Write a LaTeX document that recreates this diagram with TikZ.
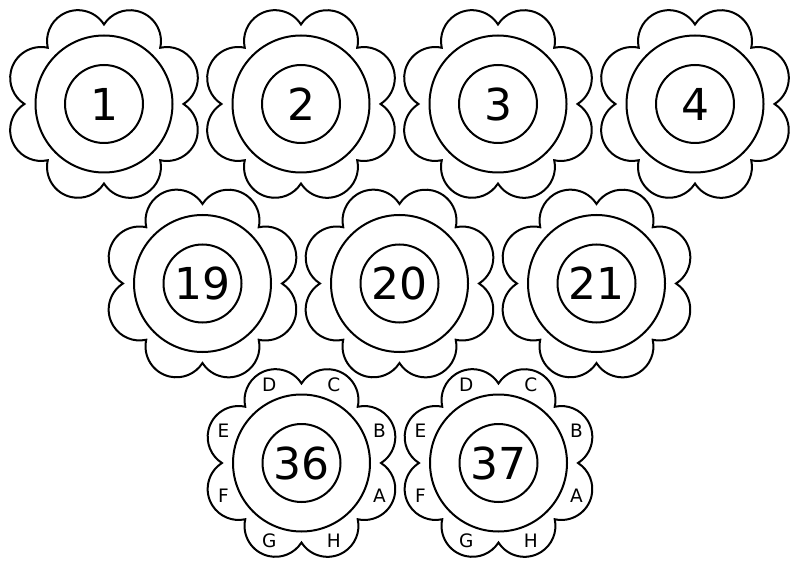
\documentclass[tikz,border=0pt]{standalone}
\usepackage{fontspec}
\setmainfont{DejaVu Sans}
\tikzset{
  flowerline/.style={line width=2pt, black, line join=miter},
  outerc/.style={circle, draw, line width=2pt, minimum size=137pt, inner sep=0pt},
  innerc/.style={circle, draw, line width=2pt, minimum size=78pt, inner sep=0pt, font=\fontsize{44}{44}\selectfont},
  petal/.style={inner sep=0pt, font=\fontsize{18.5}{18.5}\selectfont}
}
\newcommand{\flowerat}[3]{%
  \coordinate (#1) at #2;
  \draw[flowerline] (#1) ++(0:79.5)
    foreach \k in {0,...,7} { arc[start angle=45*\k-57.5, end angle=45*\k+102.5, radius=30.9] } -- cycle;
  \node[outerc] (#1o) at (#1) {};
  \node[innerc] (#1i) at (#1) {#3};
}
\newcommand{\petallabels}[1]{%
  \node[petal] (#1A) at ($(#1)+(-22.5:84.5)$) {A};
  \node[petal] (#1B) at ($(#1)+(22.5:84.5)$) {B};
  \node[petal] (#1C) at ($(#1)+(67.5:84.5)$) {C};
  \node[petal] (#1D) at ($(#1)+(112.5:84.5)$) {D};
  \node[petal] (#1E) at ($(#1)+(157.5:84.5)$) {E};
  \node[petal] (#1F) at ($(#1)+(202.5:84.5)$) {F};
  \node[petal] (#1G) at ($(#1)+(247.5:84.5)$) {G};
  \node[petal] (#1H) at ($(#1)+(292.5:84.5)$) {H};
}
\usetikzlibrary{calc}
\begin{document}
\begin{tikzpicture}[x=1pt,y=1pt]
\useasboundingbox (0,0) rectangle (800,579);
\flowerat{f1}{(104,475)}{1}
\flowerat{f2}{(301,475)}{2}
\flowerat{f3}{(498,475)}{3}
\flowerat{f4}{(695,475)}{4}
\flowerat{f19}{(202.5,295.5)}{19}
\flowerat{f20}{(399.5,295.5)}{20}
\flowerat{f21}{(596.5,295.5)}{21}
\flowerat{f36}{(301.5,116)}{36}
\flowerat{f37}{(498.5,116)}{37}
\petallabels{f36}
\petallabels{f37}
\end{tikzpicture}
\end{document}
